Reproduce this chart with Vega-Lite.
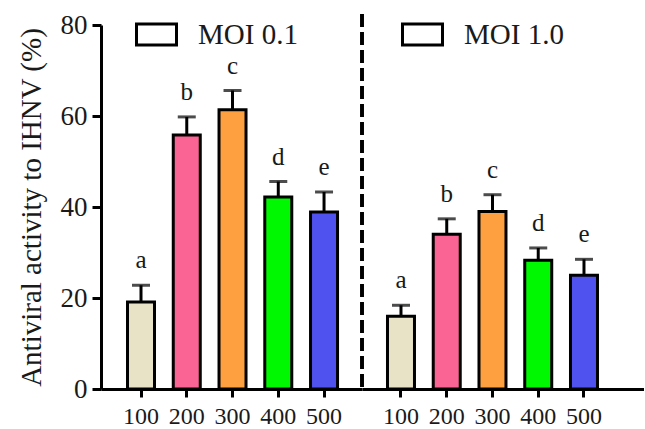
{
  "$schema": "https://vega.github.io/schema/vega-lite/v6.json",
  "autosize": {"type": "pad"},
  "padding": {"left": 17, "top": 11, "right": 0, "bottom": 5},
  "bounds": "flush",
  "spacing": 0,
  "background": "white",
  "config": {
    "view": {"stroke": null},
    "font": "Liberation Serif",
    "axis": {"grid": false, "domainColor": "black", "domainWidth": 3, "tickColor": "black", "tickWidth": 3, "labelFont": "Liberation Serif", "labelColor": "#1a1a1a", "titleFont": "Liberation Serif", "titleFontWeight": "normal", "titleColor": "#1a1a1a"},
    "legend": {"labelFont": "Liberation Serif", "labelColor": "#1a1a1a"}
  },
  "data": {"values": [
    {"moi": "MOI 0.1", "dose": "100", "value": 19.1, "err": 22.8, "letter": "a"},
    {"moi": "MOI 0.1", "dose": "200", "value": 55.8, "err": 59.8, "letter": "b"},
    {"moi": "MOI 0.1", "dose": "300", "value": 61.4, "err": 65.6, "letter": "c"},
    {"moi": "MOI 0.1", "dose": "400", "value": 42.2, "err": 45.6, "letter": "d"},
    {"moi": "MOI 0.1", "dose": "500", "value": 38.9, "err": 43.3, "letter": "e"},
    {"moi": "MOI 1.0", "dose": "100", "value": 16.0, "err": 18.4, "letter": "a"},
    {"moi": "MOI 1.0", "dose": "200", "value": 34.0, "err": 37.4, "letter": "b"},
    {"moi": "MOI 1.0", "dose": "300", "value": 39.0, "err": 42.7, "letter": "c"},
    {"moi": "MOI 1.0", "dose": "400", "value": 28.3, "err": 31.0, "letter": "d"},
    {"moi": "MOI 1.0", "dose": "500", "value": 25.0, "err": 28.5, "letter": "e"}
  ]},
  "resolve": {"scale": {"x": "independent", "y": "independent", "stroke": "independent", "fill": "shared"}, "legend": {"stroke": "independent"}},
  "hconcat": [
    {
      "width": 261,
      "height": 364,
      "transform": [{"filter": "datum.moi === 'MOI 0.1'"}],
      "encoding": {
        "x": {"field": "dose", "type": "nominal", "sort": null,
          "scale": {"paddingInner": 0.41, "paddingOuter": 0.557, "align": 0.52},
          "axis": {"title": null, "labelAngle": 0, "labelFontSize": 24, "tickSize": 8, "labelPadding": 7}},
        "y": {"type": "quantitative", "scale": {"domain": [0, 80]},
          "axis": {"title": "Antiviral activity to IHNV (%)", "values": [0, 20, 40, 60, 80], "tickSize": 9, "labelFontSize": 27, "labelPadding": 5, "titleFontSize": 29, "titlePadding": 14}}
      },
      "layer": [
        {"mark": {"type": "rule", "strokeWidth": 3, "color": "black"},
          "encoding": {"y": {"field": "value", "type": "quantitative"}, "y2": {"field": "err"}}},
        {"mark": {"type": "tick", "orient": "horizontal", "size": 18, "thickness": 3, "color": "black"},
          "encoding": {"y": {"field": "err", "type": "quantitative"}}},
        {"mark": {"type": "bar", "strokeWidth": 3},
          "encoding": {
            "y": {"field": "value", "type": "quantitative"},
            "fill": {"field": "dose", "type": "nominal", "scale": {"domain": ["100", "200", "300", "400", "500"], "range": ["#E8E2C6", "#FA6494", "#FFA040", "#00F800", "#5052F0"]}, "legend": null},
            "stroke": {"field": "moi", "type": "nominal", "scale": {"range": ["black"]},
              "legend": {"title": null, "orient": "none", "legendX": 34, "legendY": -12, "padding": 0, "symbolType": "M-1,-0.52L1,-0.52L1,0.52L-1,0.52Z", "symbolSize": 1600, "symbolStrokeWidth": 3, "symbolFillColor": "white", "symbolStrokeColor": "black", "labelFontSize": 29, "labelOffset": 20}}
          }},
        {"mark": {"type": "text", "fontSize": 25, "dy": -17, "baseline": "alphabetic", "color": "#1a1a1a"},
          "encoding": {"y": {"field": "err", "type": "quantitative"}, "text": {"field": "letter"}}}
      ]
    },
    {
      "width": 282,
      "height": 364,
      "transform": [{"filter": "datum.moi === 'MOI 1.0'"}],
      "encoding": {
        "x": {"field": "dose", "type": "nominal", "sort": null,
          "scale": {"paddingInner": 0.41, "paddingOuter": 0.787, "align": 0.354},
          "axis": {"title": null, "labelAngle": 0, "labelFontSize": 24, "tickSize": 8, "labelPadding": 7}},
        "y": {"type": "quantitative", "scale": {"domain": [0, 80]}, "axis": null}
      },
      "layer": [
        {"mark": {"type": "rule", "strokeWidth": 3, "color": "black", "strokeDash": [13, 5]},
          "encoding": {
            "x": {"datum": "100", "bandPosition": -0.944},
            "y": {"datum": 82.4, "type": "quantitative"},
            "y2": {"datum": 0}
          }},
        {"mark": {"type": "rule", "strokeWidth": 3, "color": "black"},
          "encoding": {"y": {"field": "value", "type": "quantitative"}, "y2": {"field": "err"}}},
        {"mark": {"type": "tick", "orient": "horizontal", "size": 18, "thickness": 3, "color": "black"},
          "encoding": {"y": {"field": "err", "type": "quantitative"}}},
        {"mark": {"type": "bar", "strokeWidth": 3},
          "encoding": {
            "y": {"field": "value", "type": "quantitative"},
            "fill": {"field": "dose", "type": "nominal", "scale": {"domain": ["100", "200", "300", "400", "500"], "range": ["#E8E2C6", "#FA6494", "#FFA040", "#00F800", "#5052F0"]}, "legend": null},
            "stroke": {"field": "moi", "type": "nominal", "scale": {"range": ["black"]},
              "legend": {"title": null, "orient": "none", "legendX": 39, "legendY": -12, "padding": 0, "symbolType": "M-1,-0.52L1,-0.52L1,0.52L-1,0.52Z", "symbolSize": 1600, "symbolStrokeWidth": 3, "symbolFillColor": "white", "symbolStrokeColor": "black", "labelFontSize": 29, "labelOffset": 20}}
          }},
        {"mark": {"type": "text", "fontSize": 25, "dy": -17, "baseline": "alphabetic", "color": "#1a1a1a"},
          "encoding": {"y": {"field": "err", "type": "quantitative"}, "text": {"field": "letter"}}}
      ]
    }
  ]
}
